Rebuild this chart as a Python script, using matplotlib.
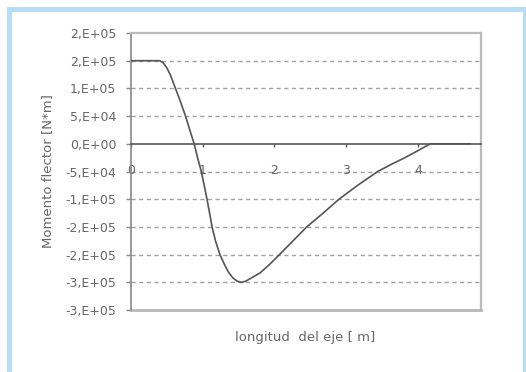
import matplotlib
matplotlib.use("Agg")
import matplotlib.pyplot as plt
from matplotlib.patches import Rectangle

# Data
x_m = [0.0, 0.40, 0.45, 0.50, 0.55, 0.62, 0.69, 0.76, 0.82, 0.88, 0.93, 0.98, 1.02,
       1.06, 1.10, 1.13, 1.18, 1.24, 1.30, 1.36, 1.42, 1.48, 1.54, 1.60, 1.68, 1.80,
       1.93, 2.07, 2.26, 2.45, 2.68, 2.90, 3.16, 3.44, 3.63, 3.82, 4.02, 4.10, 4.18, 4.73]
moment = [1.5e5, 1.5e5, 1.46e5, 1.37e5, 1.24e5, 1.0e5, 0.76e5, 0.5e5, 0.25e5, 0.0,
          -0.26e5, -0.5e5, -0.75e5, -1.0e5, -1.28e5, -1.5e5, -1.76e5, -2.0e5, -2.17e5,
          -2.32e5, -2.42e5, -2.48e5, -2.5e5, -2.48e5, -2.42e5, -2.33e5, -2.18e5, -2.0e5,
          -1.75e5, -1.5e5, -1.25e5, -1.0e5, -0.75e5, -0.5e5, -0.37e5, -0.25e5, -0.11e5,
          -0.05e5, 0.0, 0.0]
y_ticks = [2e5, 1.5e5, 1e5, 5e4, 0, -5e4, -1e5, -1.5e5, -2e5, -2.5e5, -3e5]
y_tick_labels = ["2,E+05", "2,E+05", "1,E+05", "5,E+04", "0,E+00", "-5,E+04",
                 "-1,E+05", "-2,E+05", "-2,E+05", "-3,E+05", "-3,E+05"]
x_ticks = [0, 1, 2, 3, 4]
x_tick_labels = ["0", "1", "2", "3", "4"]

W, H = 526, 372
fig = plt.figure(figsize=(W / 100, H / 100), dpi=100)
fig.patch.set_facecolor("white")

blue = "#b5ddf6"
# border frame (left, top, right)
fig.patches.append(Rectangle((7 / W, 0), 5 / W, 1 - 7 / H, transform=fig.transFigure,
                             facecolor=blue, edgecolor="none"))
fig.patches.append(Rectangle((7 / W, 1 - 12 / H), (523 - 7) / W, 5 / H,
                             transform=fig.transFigure, facecolor=blue, edgecolor="none"))
fig.patches.append(Rectangle((522.5 / W, 0), 3 / W, 1 - 7 / H, transform=fig.transFigure,
                             facecolor=blue, edgecolor="none"))

left, right, top, bottom = 131, 481, 33, 310
ax = fig.add_axes([left / W, 1 - bottom / H, (right - left) / W, (bottom - top) / H])
ax.set_xlim(0, 4.88)
ax.set_ylim(-3e5, 2e5)

txt = "#666666"
# grid lines
for yv in y_ticks:
    if yv in (0, 2e5, -3e5):
        continue
    ax.axhline(yv, color="#a0a0a0", lw=1.0, ls=(0, (3, 2.5)), zorder=1)

# plot border
for s in ["top", "right"]:
    ax.spines[s].set_color("#bbbbbb")
    ax.spines[s].set_linewidth(1.6)
ax.spines["left"].set_color("#888888")
ax.spines["left"].set_linewidth(1.2)
ax.axhline(-3e5, color="#bbbbbb", lw=2.2, zorder=2, clip_on=False)

# zero axis line
ax.spines["bottom"].set_position(("data", 0))
ax.spines["bottom"].set_color("#555555")
ax.spines["bottom"].set_linewidth(1.2)

ax.plot(x_m, moment, color="#555555", lw=1.2, zorder=3, solid_joinstyle="round")

ax.set_yticks(y_ticks)
ax.set_yticklabels(y_tick_labels)
ax.set_xticks(x_ticks)
ax.set_xticklabels(x_tick_labels)
ax.tick_params(axis="y", direction="out", length=3.5, width=1, color="#888888",
               pad=7, labelsize=9, labelcolor=txt)
ax.tick_params(axis="x", direction="out", length=2.5, width=1, color="#555555",
               pad=12, labelsize=9, labelcolor=txt)

fig.text(48 / W, 1 - 171 / H, "Momento flector [N*m]", rotation=90, ha="center",
         va="center", fontsize=9.5, color=txt)
fig.text(305 / W, 1 - 338 / H, "longitud  del eje [ m]", ha="center", va="center",
         fontsize=9.5, color=txt)

fig.savefig("out.png", dpi=100, facecolor="white")
